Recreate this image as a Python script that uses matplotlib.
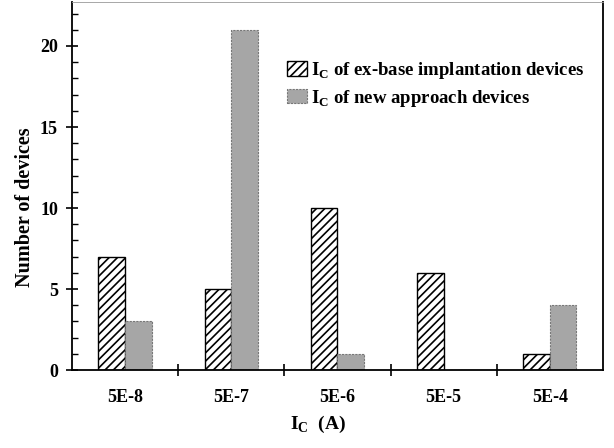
import matplotlib
matplotlib.use("Agg")
import matplotlib.pyplot as plt
import numpy as np
from matplotlib.ticker import MultipleLocator, FixedLocator

categories = ["5E-8", "5E-7", "5E-6", "5E-5", "5E-4"]
exbase = [7, 5, 10, 6, 1]
newapp = [3, 21, 1, 0, 4]

plt.rcParams['font.family'] = 'Liberation Serif'
plt.rcParams['font.weight'] = 'bold'
plt.rcParams['mathtext.fontset'] = 'custom'
plt.rcParams['mathtext.rm'] = 'Liberation Serif:bold'
plt.rcParams['mathtext.bf'] = 'Liberation Serif:bold'
plt.rcParams['hatch.linewidth'] = 1.2

fig = plt.figure(figsize=(6.14, 4.48), dpi=100)
ax = fig.add_axes([0.117, 0.174, 0.865, 0.821])

x = np.arange(len(categories))
w = 0.25
ax.bar(x - w/2, exbase, w, facecolor='white', edgecolor='black', hatch='////', linewidth=1.0,
       label=r'I$_\mathregular{C}$ of ex-base implantation devices')
ax.bar(x + w/2, newapp, w, facecolor='#a6a6a6', edgecolor='#777777', linewidth=0.8, linestyle=(0, (2, 1)),
       label=r'I$_\mathregular{C}$ of new approach devices')

ax.set_xlim(-0.5, 4.5)
ax.set_ylim(0, 22.7)
ax.yaxis.set_major_locator(MultipleLocator(5))
ax.yaxis.set_minor_locator(MultipleLocator(1))
ax.set_xticks(x)
ax.set_xticklabels(categories, fontsize=13, fontweight='bold')
ax.tick_params(axis='x', which='major', length=0, pad=14)
ax.xaxis.set_minor_locator(FixedLocator([0.5, 1.5, 2.5, 3.5]))
ax.tick_params(axis='x', which='minor', length=8, direction='inout', width=1.2)
ax.tick_params(axis='y', which='major', direction='inout', length=8, width=1.2, labelsize=13, pad=6)
ax.tick_params(axis='y', which='minor', direction='in', length=4, width=1.0)
for lab in ax.get_yticklabels():
    lab.set_fontweight('bold')

for s in ax.spines.values():
    s.set_linewidth(1.3)
ax.spines['top'].set_linewidth(0.6)
ax.spines['top'].set_color('#999999')

ax.set_ylabel('Number of devices', fontsize=14.5, fontweight='bold')
ax.yaxis.set_label_coords(-0.07, 0.443)
ax.set_xlabel(r'I$_\mathregular{C}$  (A)', fontsize=14, fontweight='bold')
ax.xaxis.set_label_coords(0.463, -0.12)

leg = ax.legend(loc='upper left', bbox_to_anchor=(0.405, 0.843), frameon=False, fontsize=13.5,
                borderpad=0, borderaxespad=0,
                handlelength=1.07, handleheight=0.8, handletextpad=0.2, labelspacing=0.35)

fig.savefig('out.png', dpi=100)
